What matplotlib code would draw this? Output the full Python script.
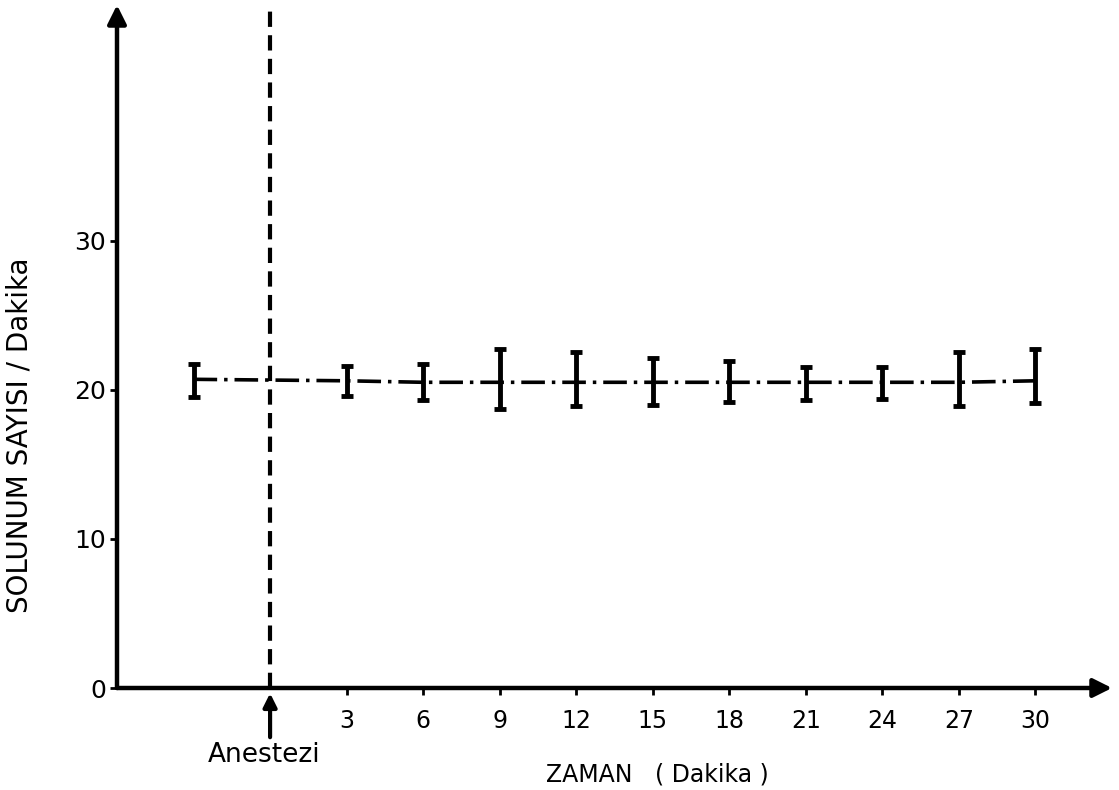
import numpy as np
import matplotlib
matplotlib.use("Agg")
import matplotlib.pyplot as plt

# zaman (dakika), -3 = anestezi oncesi
zaman = [-3, 3, 6, 9, 12, 15, 18, 21, 24, 27, 30]
ortalama = [20.7, 20.6, 20.5, 20.5, 20.5, 20.5, 20.5, 20.5, 20.5, 20.5, 20.6]
ust = [21.7, 21.6, 21.7, 22.7, 22.5, 22.1, 21.9, 21.5, 21.5, 22.5, 22.75]
alt = [19.5, 19.6, 19.3, 18.7, 18.9, 19.0, 19.2, 19.3, 19.4, 18.9, 19.1]
xticks = [3, 6, 9, 12, 15, 18, 21, 24, 27, 30]
yticks = [0, 10, 20, 30]

plt.rcParams["lines.scale_dashes"] = False

fig = plt.figure(figsize=(11.19, 7.9), dpi=100)
ax = fig.add_axes([117 / 1119, 102 / 790, 995 / 1119, 683 / 790])
ax.set_xlim(-6, 33.0)
ax.set_ylim(0, 45.8)
for s in ax.spines.values():
	s.set_visible(False)

# eksenler (oklu)
ok = dict(arrowstyle="-|>", lw=3.2, color="black", mutation_scale=28, shrinkA=0, shrinkB=0)
ax.annotate("", xy=(33.0, 0), xytext=(-6, 0), arrowprops=ok, annotation_clip=False)
ax.annotate("", xy=(-6, 45.8), xytext=(-6, 0), arrowprops=ok, annotation_clip=False)

# anestezi cizgisi
ax.plot([0, 0], [0, 45.5], color="black", lw=3, linestyle=(0, (11, 6)), clip_on=False)
ax.annotate("", xy=(0, -0.35), xytext=(0, -3.3), annotation_clip=False,
	arrowprops=dict(arrowstyle="-|>", lw=3, color="black", mutation_scale=20, shrinkA=0, shrinkB=0))

# ortalama cizgisi ve hata cubuklari
ax.plot(zaman, ortalama, color="black", lw=2.6, linestyle=(0, (17, 5, 2.5, 5)))
yerr = [np.array(ortalama) - np.array(alt), np.array(ust) - np.array(ortalama)]
ax.errorbar(zaman, ortalama, yerr=yerr, fmt="none", ecolor="black",
	elinewidth=3.5, capsize=4, capthick=3.5)

ax.set_xticks(xticks)
ax.set_xticklabels([str(t) for t in xticks], fontsize=17)
ax.set_yticks(yticks)
ax.set_yticklabels([str(t) for t in yticks], fontsize=18)
ax.tick_params(axis="x", direction="out", length=5, width=2, pad=10)
ax.tick_params(axis="y", direction="out", length=5, width=2, pad=3)

ax.set_ylabel("SOLUNUM SAYISI / Dakika", fontsize=20)
ax.yaxis.set_label_coords(-0.084, 0.37)

ax.text(-0.25, -4.5, "Anestezi", fontsize=19, ha="center", va="center")
ax.text(15.2, -5.8, "ZAMAN   ( Dakika )", fontsize=17, ha="center", va="center")

fig.savefig("out.png", dpi=100)
